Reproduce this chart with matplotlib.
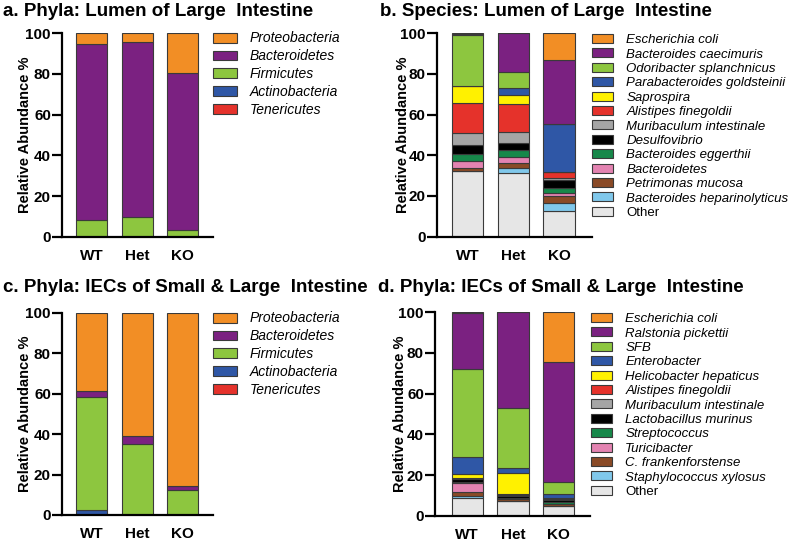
import matplotlib
matplotlib.use("Agg")
import matplotlib.pyplot as plt
import numpy as np

plt.rcParams['font.family'] = ['Liberation Sans', 'DejaVu Sans']

groups = ['WT', 'Het', 'KO']

# legend order (top of the stack first)
phyla = ['Proteobacteria', 'Bacteroidetes', 'Firmicutes', 'Actinobacteria', 'Tenericutes']
phyla_colors = ['#F28E25', '#7B2181', '#8DC63F', '#2F57A6', '#E5322B']

lumen_phyla = [
    [5.4, 4.5, 19.7],
    [86.3, 85.7, 77.0],
    [8.3, 9.8, 3.3],
    [0.0, 0.0, 0.0],
    [0.0, 0.0, 0.0],
]

iec_phyla = [
    [38.8, 61.0, 85.5],
    [2.7, 4.0, 2.0],
    [56.0, 34.8, 12.3],
    [2.5, 0.2, 0.2],
    [0.0, 0.0, 0.0],
]

lumen_species = ['Escherichia coli', 'Bacteroides caecimuris', 'Odoribacter splanchnicus',
                 'Parabacteroides goldsteinii', 'Saprospira', 'Alistipes finegoldii',
                 'Muribaculum intestinale', 'Desulfovibrio', 'Bacteroides eggerthii',
                 'Bacteroidetes', 'Petrimonas mucosa', 'Bacteroides heparinolyticus', 'Other']
lumen_species_vals = [
    [0.2, 0.0, 13.1],
    [0.8, 18.9, 31.7],
    [24.8, 8.1, 0.0],
    [0.2, 3.4, 23.3],
    [8.3, 4.4, 0.0],
    [15.0, 13.6, 3.0],
    [5.6, 5.4, 1.1],
    [4.5, 3.6, 4.1],
    [3.6, 3.3, 2.1],
    [3.2, 3.0, 1.7],
    [1.6, 2.4, 3.6],
    [0.2, 2.5, 3.6],
    [32.0, 31.4, 12.7],
]

iec_species = ['Escherichia coli', 'Ralstonia pickettii', 'SFB', 'Enterobacter',
               'Helicobacter hepaticus', 'Alistipes finegoldii', 'Muribaculum intestinale',
               'Lactobacillus murinus', 'Streptococcus', 'Turicibacter',
               'C. frankenforstense', 'Staphylococcus xylosus', 'Other']
iec_species_vals = [
    [0.2, 0.0, 24.3],
    [27.7, 47.2, 59.0],
    [43.1, 29.2, 6.0],
    [8.7, 2.6, 2.2],
    [1.9, 10.5, 0.2],
    [0.2, 0.2, 0.1],
    [0.2, 0.8, 0.3],
    [1.5, 0.9, 1.0],
    [0.3, 0.2, 1.0],
    [4.4, 0.3, 0.3],
    [2.0, 0.8, 0.6],
    [1.3, 0.3, 0.2],
    [8.5, 7.0, 4.8],
]

species_colors = ['#F28E25', '#7B2181', '#8DC63F', '#2F57A6', '#FFF100', '#E5322B',
                  '#A5A5A5', '#000000', '#17884A', '#E383B1', '#8A4A26', '#80C8EB', '#E6E6E6']

W, H = 800, 541
fig = plt.figure(figsize=(8, 5.41), dpi=100)


def px_axes(left, right, top, bottom):
    return fig.add_axes([left / W, 1 - bottom / H, (right - left) / W, (bottom - top) / H])


def draw(ax, labels, vals, colors, xlim, leg_xy, fs, hl, hh, ls, tp, ylab_x):
    x = np.arange(len(groups))
    bottom = np.zeros(len(groups))
    handles = {}
    for lab, v, c in zip(labels[::-1], vals[::-1], colors[::-1]):
        b = ax.bar(x, v, 0.68, bottom=bottom, color=c, edgecolor='#3a3a3a', linewidth=0.8, label=lab)
        handles[lab] = b
        bottom += np.array(v)
    ax.set_xlim(*xlim)
    ax.set_ylim(0, 100)
    ax.set_yticks([0, 20, 40, 60, 80, 100])
    ax.set_xticks(x)
    ax.set_xticklabels(groups, fontweight='bold', fontsize=11)
    for t in ax.get_yticklabels():
        t.set_fontweight('bold')
        t.set_fontsize(11)
    ax.tick_params(axis='x', length=0, pad=9)
    ax.tick_params(axis='y', length=7, width=1.6, pad=1)
    for s in ['top', 'right']:
        ax.spines[s].set_visible(False)
    for s in ['left', 'bottom']:
        ax.spines[s].set_linewidth(1.6)
    ax.set_ylabel('Relative Abundance %', fontweight='bold', fontsize=10.5)
    ax.yaxis.set_label_coords(ylab_x, 0.5)
    leg = ax.legend([handles[l] for l in labels], labels, loc='upper left',
                    bbox_to_anchor=(leg_xy[0] / W, 1 - leg_xy[1] / H), bbox_transform=fig.transFigure,
                    frameon=False, fontsize=fs, handlelength=hl, handleheight=hh,
                    labelspacing=ls, handletextpad=tp, borderpad=0, borderaxespad=0)
    for t in leg.get_texts():
        t.set_fontstyle('normal' if t.get_text() == 'Other' else 'italic')
    return leg


ax_a = px_axes(62, 213, 33.3, 236.7)
draw(ax_a, phyla, lumen_phyla, phyla_colors, (-0.65, 2.67), (213, 31.5), 10, 1.75, 0.7, 0.27, 0.9, -0.2)

ax_b = px_axes(436.7, 592, 33.3, 236.5)
draw(ax_b, lumen_species, lumen_species_vals, species_colors, (-0.67, 2.72), (591.5, 34), 9.5, 1.63, 0.68, 0.17, 1.0, -0.17)

ax_c = px_axes(62, 213, 312.7, 515)
draw(ax_c, phyla, iec_phyla, phyla_colors, (-0.65, 2.67), (213, 311.5), 10, 1.75, 0.7, 0.27, 0.9, -0.2)

ax_d = px_axes(435, 590, 312.3, 515.7)
draw(ax_d, iec_species, iec_species_vals, species_colors, (-0.70, 2.68), (590.5, 313), 9.5, 1.63, 0.68, 0.17, 1.0, -0.18)

tfs = 13.5
fig.text(3 / W, 1 - 11 / H, 'a. Phyla: Lumen of Large  Intestine', fontweight='bold', fontsize=tfs, va='center')
fig.text(380 / W, 1 - 11 / H, 'b. Species: Lumen of Large  Intestine', fontweight='bold', fontsize=tfs, va='center')
fig.text(3 / W, 1 - 288 / H, 'c. Phyla: IECs of Small & Large  Intestine', fontweight='bold', fontsize=tfs, va='center')
fig.text(378 / W, 1 - 288 / H, 'd. Phyla: IECs of Small & Large  Intestine', fontweight='bold', fontsize=tfs, va='center')

fig.savefig('out.png', dpi=100)
